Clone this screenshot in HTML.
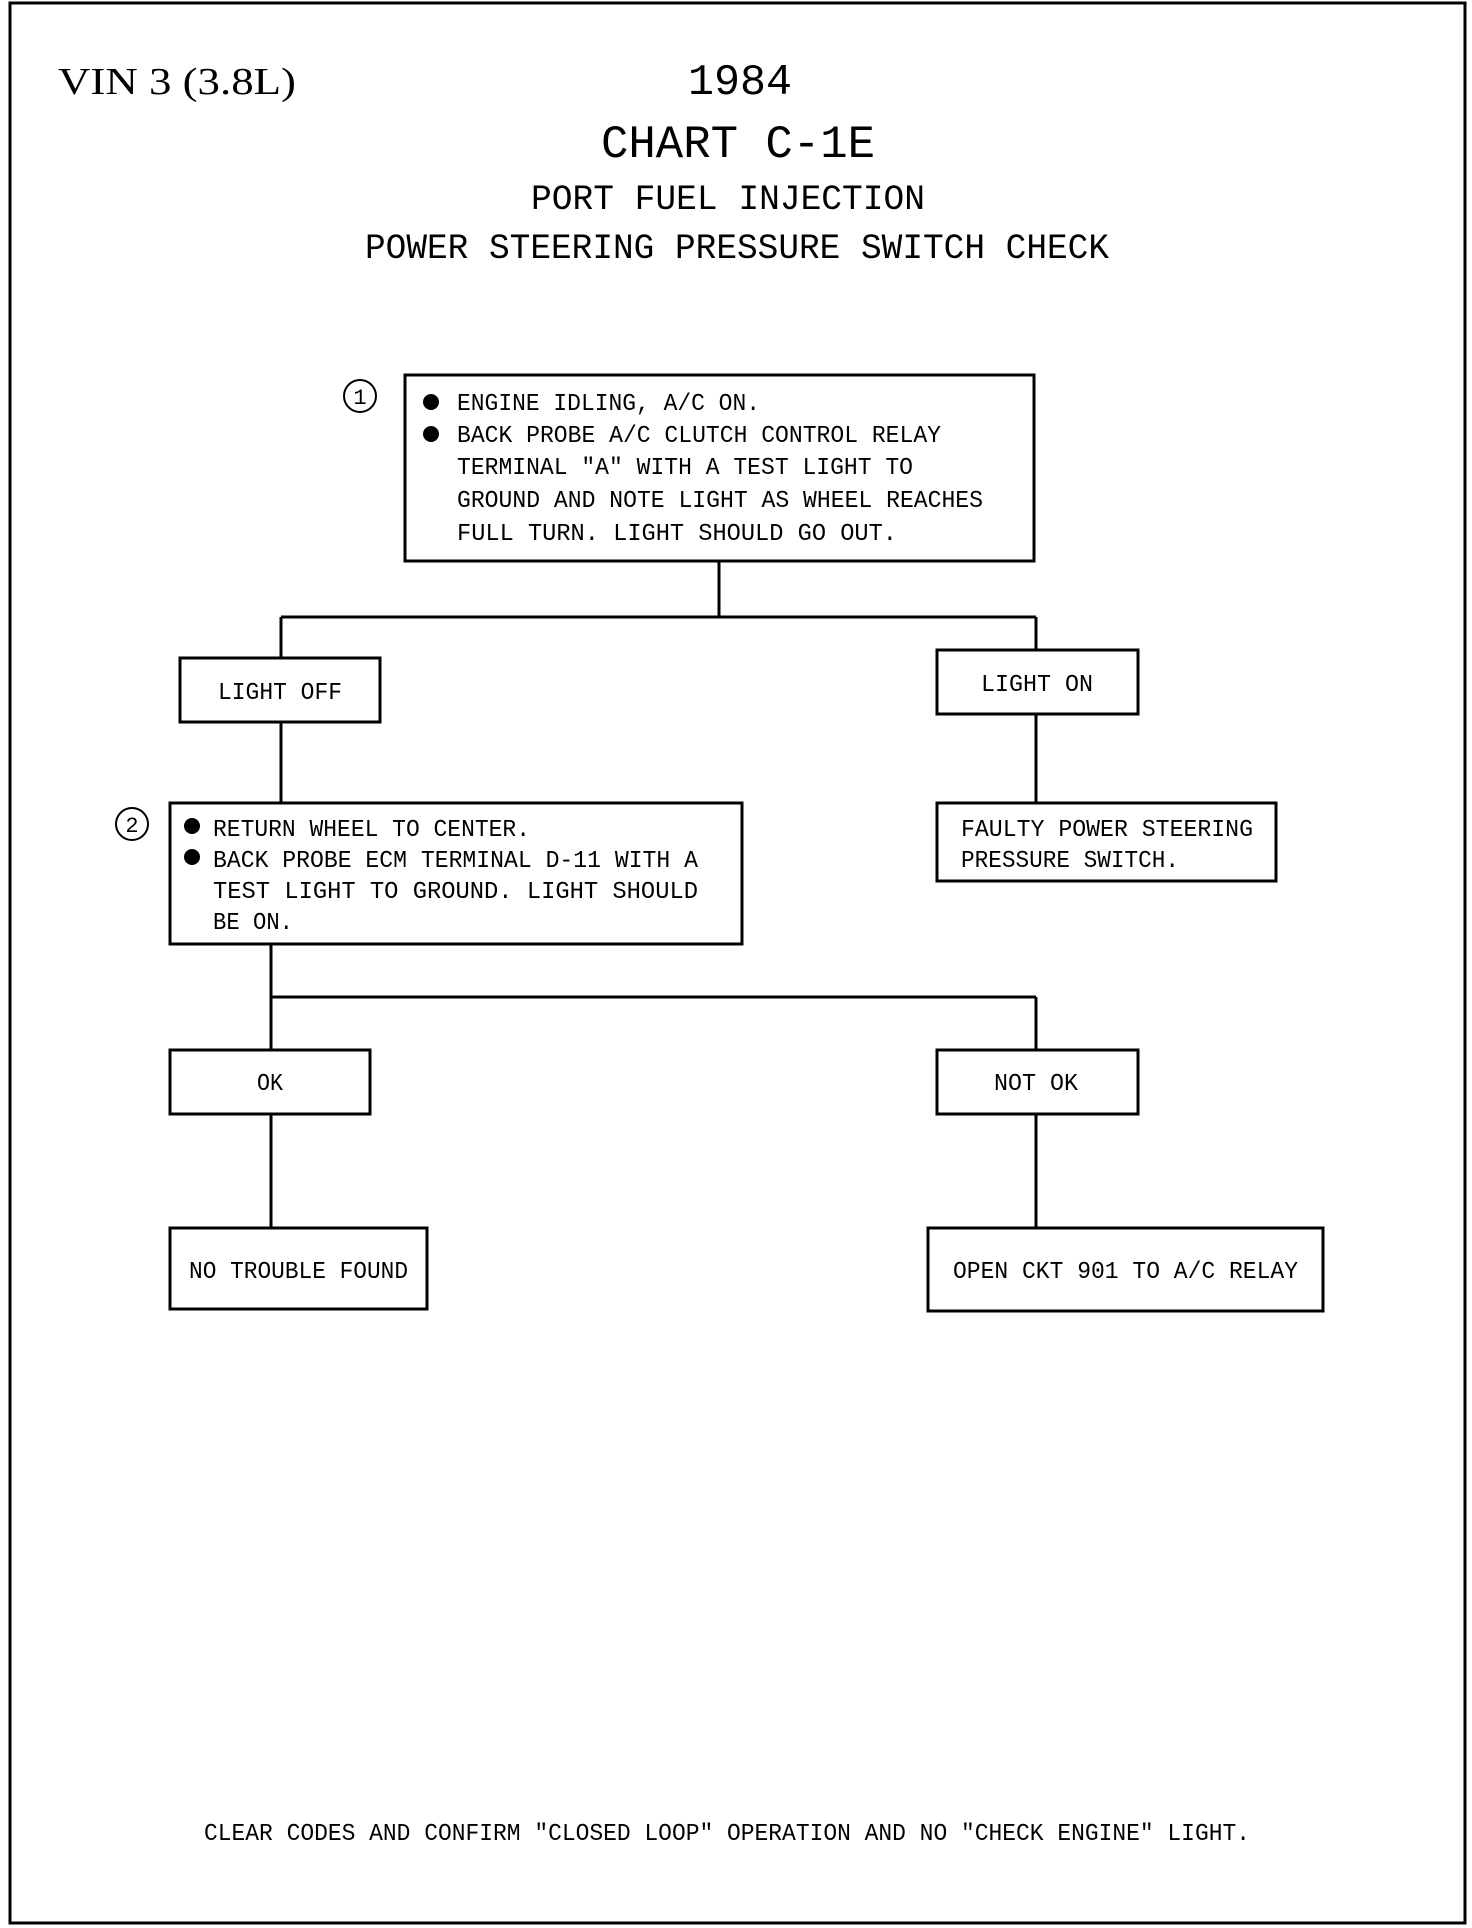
<!DOCTYPE html>
<html><head><meta charset="utf-8"><style>
html,body{margin:0;padding:0;background:#fff;}
svg{display:block;}
text{font-family:"Liberation Mono",monospace;fill:#000;}
</style></head><body>
<svg width="1472" height="1928" viewBox="0 0 1472 1928" xmlns="http://www.w3.org/2000/svg">
<rect x="10" y="3" width="1455" height="1920" fill="none" stroke="#000" stroke-width="3"/>
<text x="58" y="94" style="font-family:'Liberation Serif',serif" font-size="38" textLength="238" lengthAdjust="spacingAndGlyphs">VIN 3 (3.8L)</text>
<text x="740" y="94" text-anchor="middle" font-size="44" textLength="104" lengthAdjust="spacingAndGlyphs">1984</text>
<text x="738" y="157" text-anchor="middle" font-size="46" textLength="274" lengthAdjust="spacingAndGlyphs">CHART C-1E</text>
<text x="728" y="209" text-anchor="middle" font-size="35" textLength="394" lengthAdjust="spacingAndGlyphs">PORT FUEL INJECTION</text>
<text x="737" y="258" text-anchor="middle" font-size="35" textLength="744" lengthAdjust="spacingAndGlyphs">POWER STEERING PRESSURE SWITCH CHECK</text>

<g fill="none" stroke="#000" stroke-width="3">
<rect x="405" y="375" width="629" height="186"/>
<circle cx="360" cy="396" r="16" stroke-width="2"/>
<path d="M719 561V617M281 617H1036M281 617V658M1036 617V650"/>
<rect x="180" y="658" width="200" height="64"/>
<rect x="937" y="650" width="201" height="64"/>
<path d="M281 722V803M1036 714V803"/>
<rect x="170" y="803" width="572" height="141"/>
<circle cx="132" cy="824" r="16" stroke-width="2"/>
<rect x="937" y="803" width="339" height="78"/>
<path d="M271 944V997M271 997H1036M271 997V1050M1036 997V1050"/>
<rect x="170" y="1050" width="200" height="64"/>
<rect x="937" y="1050" width="201" height="64"/>
<path d="M271 1114V1228M1036 1114V1228"/>
<rect x="170" y="1228" width="257" height="81"/>
<rect x="928" y="1228" width="395" height="83"/>
</g>
<text x="360" y="404" text-anchor="middle" font-size="22">1</text>
<text x="132" y="832" text-anchor="middle" font-size="22">2</text>

<g font-size="24">
<circle cx="431" cy="402" r="8"/><circle cx="431" cy="434" r="8"/>
<text x="457" y="410" textLength="303" lengthAdjust="spacingAndGlyphs">ENGINE IDLING, A/C ON.</text>
<text x="457" y="442" textLength="484" lengthAdjust="spacingAndGlyphs">BACK PROBE A/C CLUTCH CONTROL RELAY</text>
<text x="457" y="474" textLength="456" lengthAdjust="spacingAndGlyphs">TERMINAL "A" WITH A TEST LIGHT TO</text>
<text x="457" y="507" textLength="526" lengthAdjust="spacingAndGlyphs">GROUND AND NOTE LIGHT AS WHEEL REACHES</text>
<text x="457" y="540" textLength="440" lengthAdjust="spacingAndGlyphs">FULL TURN.  LIGHT SHOULD GO OUT.</text>

<text x="280" y="699" text-anchor="middle" textLength="124" lengthAdjust="spacingAndGlyphs">LIGHT OFF</text>
<text x="1037" y="691" text-anchor="middle" textLength="112" lengthAdjust="spacingAndGlyphs">LIGHT ON</text>

<circle cx="192" cy="826" r="8"/><circle cx="192" cy="857" r="8"/>
<text x="213" y="836" textLength="317" lengthAdjust="spacingAndGlyphs">RETURN WHEEL TO CENTER.</text>
<text x="213" y="867" textLength="485" lengthAdjust="spacingAndGlyphs">BACK PROBE ECM TERMINAL D-11 WITH A</text>
<text x="213" y="898" textLength="485" lengthAdjust="spacingAndGlyphs">TEST LIGHT TO GROUND.  LIGHT SHOULD</text>
<text x="213" y="929" textLength="80" lengthAdjust="spacingAndGlyphs">BE ON.</text>

<text x="961" y="836" textLength="292" lengthAdjust="spacingAndGlyphs">FAULTY POWER STEERING</text>
<text x="961" y="867" textLength="218" lengthAdjust="spacingAndGlyphs">PRESSURE SWITCH.</text>

<text x="270" y="1090" text-anchor="middle" textLength="26" lengthAdjust="spacingAndGlyphs">OK</text>
<text x="1036" y="1090" text-anchor="middle" textLength="84" lengthAdjust="spacingAndGlyphs">NOT OK</text>
<text x="189" y="1278" textLength="219" lengthAdjust="spacingAndGlyphs">NO TROUBLE FOUND</text>
<text x="953" y="1278" textLength="345" lengthAdjust="spacingAndGlyphs">OPEN CKT 901 TO A/C RELAY</text>
<text x="204" y="1840" textLength="1046" lengthAdjust="spacingAndGlyphs">CLEAR CODES AND CONFIRM "CLOSED LOOP" OPERATION AND NO "CHECK ENGINE" LIGHT.</text>
</g>
</svg>
</body></html>
